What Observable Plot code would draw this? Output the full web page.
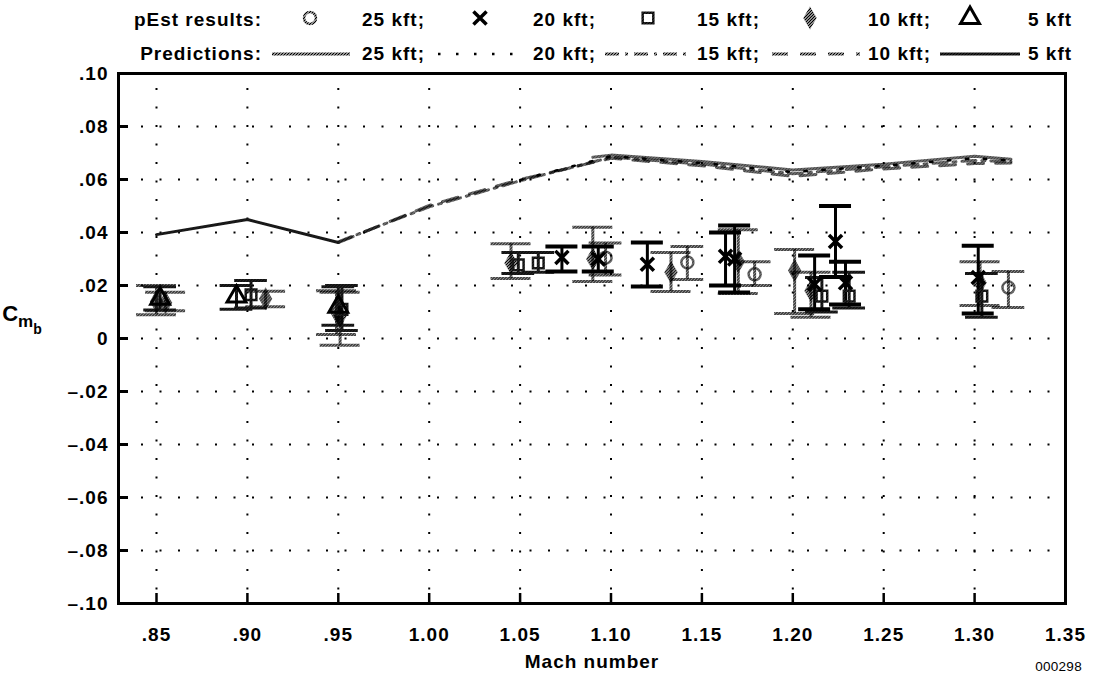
<!DOCTYPE html>
<html>
<head>
<meta charset="utf-8">
<script src="https://cdn.jsdelivr.net/npm/d3@7"></script>
<script src="https://cdn.jsdelivr.net/npm/@observablehq/plot@0.6"></script>
<style>
  body { margin: 0; background: #fff; }
  #chart { width: 1095px; height: 677px; position: relative; font-family: "Liberation Sans", Arial, sans-serif; }
  svg { display: block; }
</style>
</head>
<body>
<!-- halftone textures shared by the legend and the plot -->
<svg width="0" height="0" style="position:absolute">
  <defs>
    <pattern id="hatch" patternUnits="userSpaceOnUse" width="3" height="3">
      <path d="M-1,1 l2,-2 M0,3 l3,-3 M2,4 l2,-2" stroke="#000" stroke-width="1.3"/>
    </pattern>
    <pattern id="hatchDark" patternUnits="userSpaceOnUse" width="3" height="3">
      <rect width="3" height="3" fill="#333"/>
      <path d="M-1,1 l2,-2 M0,3 l3,-3 M2,4 l2,-2" stroke="#000" stroke-width="1.2"/>
    </pattern>
  </defs>
</svg>
<div id="chart">
  <div id="legend"></div>
  <div id="plot"></div>
</div>
<script>
// ---- axes ----
const xTicks = [0.85, 0.90, 0.95, 1.00, 1.05, 1.10, 1.15, 1.20, 1.25, 1.30, 1.35];
const xTickLabels = [".85", ".90", ".95", "1.00", "1.05", "1.10", "1.15", "1.20", "1.25", "1.30", "1.35"];
const yTicks = [0.10, 0.08, 0.06, 0.04, 0.02, 0, -0.02, -0.04, -0.06, -0.08, -0.10];
const yTickLabels = [".10", ".08", ".06", ".04", ".02", "0", "–.02", "–.04", "–.06", "–.08", "–.10"];
const altitudes = ["25 kft", "20 kft", "15 kft", "10 kft", "5 kft"];

// ---- predictions: [Mach, Cm_b] ----
const pred25kft = [[1.09, 0.0684], [1.10, 0.0692], [1.15, 0.0668], [1.20, 0.0636], [1.25, 0.0658], [1.30, 0.0688], [1.32, 0.0676]];
const pred20kft = [[1.05, 0.0598], [1.10, 0.0688], [1.15, 0.0662], [1.20, 0.0628], [1.25, 0.0652], [1.30, 0.0680], [1.32, 0.0672]];
const pred15kft = [[0.95, 0.0365], [1.00, 0.0497], [1.05, 0.0595], [1.10, 0.0684], [1.15, 0.0658], [1.20, 0.0622], [1.25, 0.0648], [1.30, 0.0672], [1.32, 0.0668]];
const pred10kft = [[0.95, 0.0362], [1.00, 0.0502], [1.05, 0.0600], [1.10, 0.0680], [1.15, 0.0652], [1.20, 0.0612], [1.25, 0.0640], [1.30, 0.0660], [1.32, 0.0662]];
const pred5kft = [[0.85, 0.0392], [0.90, 0.0449], [0.95, 0.0362]];

// ---- pEst results: [Mach, Cm_b, lower bound, upper bound] ----
const pest25kft = [
  [1.097, 0.0305, 0.0240, 0.0360],
  [1.142, 0.0287, 0.0223, 0.0347],
  [1.179, 0.0242, 0.0200, 0.0290],
  [1.3186, 0.0192, 0.0117, 0.0253]
];
const pest20kft = [
  [1.073, 0.0306, 0.0253, 0.0347],
  [1.093, 0.0300, 0.0253, 0.0347],
  [1.120, 0.0280, 0.0196, 0.0362],
  [1.163, 0.0310, 0.0200, 0.0400],
  [1.168, 0.0300, 0.0174, 0.0426],
  [1.212, 0.0205, 0.0110, 0.0313],
  [1.2235, 0.0366, 0.0232, 0.0500],
  [1.229, 0.0210, 0.0128, 0.0290],
  [1.302, 0.0230, 0.0094, 0.0350]
];
const pest15kft = [
  [0.902, 0.0165, 0.0115, 0.0219],
  [0.952, 0.0110, 0.0030, 0.0200],
  [1.049, 0.0278, 0.0245, 0.0325],
  [1.060, 0.0285, 0.0250, 0.0325],
  [1.216, 0.0160, 0.0100, 0.0230],
  [1.231, 0.0160, 0.0115, 0.0250],
  [1.304, 0.0160, 0.0080, 0.0245]
];
const pest10kft = [
  [0.850, 0.0140, 0.0090, 0.0200],
  [0.855, 0.0135, 0.0105, 0.0175],
  [0.910, 0.0150, 0.0120, 0.0178],
  [0.949, 0.0100, 0.0015, 0.0180],
  [0.951, 0.0085, -0.0025, 0.0175],
  [1.045, 0.0285, 0.0226, 0.0358],
  [1.090, 0.0300, 0.0215, 0.0420],
  [1.133, 0.0250, 0.0177, 0.0325],
  [1.170, 0.0290, 0.0170, 0.0410],
  [1.201, 0.0257, 0.0094, 0.0336],
  [1.210, 0.0180, 0.0080, 0.0250],
  [1.303, 0.0210, 0.0125, 0.0290]
];
const pest5kft = [
  [0.852, 0.0150, 0.0108, 0.0195],
  [0.894, 0.0158, 0.0110, 0.0200],
  [0.950, 0.0120, 0.0050, 0.0195]
];

// ---- drawing styles ----
const FONT = '"Liberation Sans", Arial, sans-serif';
const GREY = "url(#hatch)";
const DARK = "url(#hatchDark)";
const predStyle = {
  "25 kft": {stroke: GREY, strokeWidth: 3},
  "20 kft": {stroke: "black", strokeWidth: 2.5, strokeDasharray: "2.5,15.5"},
  "15 kft": {stroke: GREY, strokeWidth: 3, strokeDasharray: "14,6,3,6"},
  "10 kft": {stroke: GREY, strokeWidth: 3, strokeDasharray: "16,12"},
  "5 kft": {stroke: DARK, strokeWidth: 3}
};
const pestStyle = {
  "25 kft": {symbol: "circle", r: 6, stroke: GREY, fill: "none", strokeWidth: 2.5, bar: GREY, stem: 3, cap: 3, capHalf: 0.009},
  "20 kft": {symbol: "times", r: 6, stroke: "black", fill: "none", strokeWidth: 3.5, bar: "black", stem: 3, cap: 4, capHalf: 0.0088},
  "15 kft": {symbol: "square", r: 6, stroke: DARK, fill: "none", strokeWidth: 2.5, bar: DARK, stem: 3, cap: 3, capHalf: 0.009},
  "10 kft": {symbol: "diamond", r: 7, stroke: "none", fill: GREY, strokeWidth: 1, bar: GREY, stem: 3, cap: 3, capHalf: 0.011},
  "5 kft": {symbol: "triangle", r: 7, stroke: "black", fill: "none", strokeWidth: 3, bar: DARK, stem: 3, cap: 3, capHalf: 0.009}
};
const predictions = {"25 kft": pred25kft, "20 kft": pred20kft, "15 kft": pred15kft, "10 kft": pred10kft, "5 kft": pred5kft};
const results = {"25 kft": pest25kft, "20 kft": pest20kft, "15 kft": pest15kft, "10 kft": pest10kft, "5 kft": pest5kft};

// ---- legend ----
const legend = d3.select("#legend").append("svg")
  .attr("width", 1095).attr("height", 66)
  .style("font-family", FONT).style("font-size", "19px")
  .style("font-weight", "bold").style("letter-spacing", "1px");
legend.append("text").attr("x", 262).attr("y", 26).attr("text-anchor", "end").text("pEst results:");
legend.append("text").attr("x", 262).attr("y", 60).attr("text-anchor", "end").text("Predictions:");
const labelX = [362, 533, 697, 868, 1028];
const symbolX = [310, 480, 648, 810, 970];
const sampleX = [[272, 350], [438, 526], [605, 686], [772, 860], [940, 1020]];
const d3Symbols = {circle: d3.symbolCircle, times: d3.symbolTimes, square: d3.symbolSquare, diamond: d3.symbolDiamond, triangle: d3.symbolTriangle};
altitudes.forEach((alt, i) => {
  const sep = i < altitudes.length - 1 ? ";" : "";
  legend.append("text").attr("x", labelX[i]).attr("y", 26).text(alt + sep);
  legend.append("text").attr("x", labelX[i]).attr("y", 60).text(alt + sep);
  const s = pestStyle[alt];
  legend.append("path")
    .attr("transform", `translate(${symbolX[i]},18)`)
    .attr("d", d3.symbol(d3Symbols[s.symbol], Math.PI * s.r * s.r)())
    .attr("fill", s.fill).attr("stroke", s.stroke).attr("stroke-width", s.strokeWidth);
  const p = predStyle[alt];
  legend.append("line")
    .attr("x1", sampleX[i][0]).attr("x2", sampleX[i][1]).attr("y1", 54).attr("y2", 54)
    .attr("stroke", p.stroke).attr("stroke-width", p.strokeWidth)
    .attr("stroke-dasharray", p.strokeDasharray || null);
});

// ---- plot ----
const W = 1095, H = 611, mL = 118, mR = 30, mT = 7, mB = 74;
const innerW = W - mL - mR, innerH = H - mT - mB;

function errorBars(data, s) {
  return [
    Plot.ruleX(data, {x: d => d[0], y1: d => d[2], y2: d => d[3], stroke: s.bar, strokeWidth: s.stem}),
    Plot.ruleY(data, {y: d => d[2], x1: d => d[0] - s.capHalf, x2: d => d[0] + s.capHalf, stroke: s.bar, strokeWidth: s.cap}),
    Plot.ruleY(data, {y: d => d[3], x1: d => d[0] - s.capHalf, x2: d => d[0] + s.capHalf, stroke: s.bar, strokeWidth: s.cap})
  ];
}

// y-axis title with nested subscripts, and the figure number
function annotations() {
  const ns = "http://www.w3.org/2000/svg";
  const g = document.createElementNS(ns, "g");
  const t = document.createElementNS(ns, "text");
  t.setAttribute("x", 22);
  t.setAttribute("y", 255);
  t.setAttribute("font-size", 22);
  t.setAttribute("font-weight", "bold");
  t.setAttribute("letter-spacing", "0");
  const parts = [["C", 22, 0], ["m", 17, 6], ["b", 14, 7]];
  for (const [s, size, dy] of parts) {
    const ts = document.createElementNS(ns, "tspan");
    ts.setAttribute("font-size", size);
    ts.setAttribute("dy", dy);
    ts.textContent = s;
    t.appendChild(ts);
  }
  g.appendChild(t);
  const code = document.createElementNS(ns, "text");
  code.setAttribute("x", 1082);
  code.setAttribute("y", 605);
  code.setAttribute("text-anchor", "end");
  code.setAttribute("font-size", 13.5);
  code.setAttribute("font-weight", "normal");
  code.setAttribute("letter-spacing", "0.3");
  code.textContent = "000298";
  g.appendChild(code);
  return g;
}

const xIn = xTicks.filter(v => v > 0.84 && v < 1.34);
const yIn = yTicks.filter(v => v > -0.099 && v < 0.099);

const marks = [
  Plot.gridY(yIn, {stroke: "black", strokeOpacity: 1, strokeWidth: 2, strokeDasharray: "2,16.5", strokeDashoffset: -4.5}),
  Plot.gridX(xIn, {stroke: "black", strokeOpacity: 1, strokeWidth: 2, strokeDasharray: "2,16.5", strokeDashoffset: -15}),
  Plot.tickX(xIn, {x: d => d, insetTop: innerH - 10, stroke: "black", strokeWidth: 2.5}),
  Plot.tickY(yTicks, {y: d => d, insetRight: innerW - 10, stroke: "black", strokeWidth: 3}),
  // predicted derivatives
  ...["10 kft", "15 kft", "25 kft", "20 kft", "5 kft"].map(alt =>
    Plot.line(predictions[alt], {x: d => d[0], y: d => d[1], ...predStyle[alt]})),
  // estimates with uncertainty bounds, grey series first
  ...["10 kft", "25 kft", "15 kft", "5 kft", "20 kft"].flatMap(alt => errorBars(results[alt], pestStyle[alt])),
  ...["10 kft", "25 kft", "15 kft", "5 kft", "20 kft"].map(alt => {
    const s = pestStyle[alt];
    return Plot.dot(results[alt], {x: d => d[0], y: d => d[1], symbol: s.symbol, r: s.r, stroke: s.stroke, fill: s.fill, strokeWidth: s.strokeWidth});
  }),
  Plot.frame({stroke: "black", strokeWidth: 3}),
  Plot.axisX({ticks: xTicks, tickFormat: d => xTickLabels[xTicks.indexOf(d)], tickSize: 0, tickPadding: 24,
    label: "Mach number", labelAnchor: "center", labelArrow: "none", labelOffset: 64}),
  Plot.axisY({ticks: yTicks, tickFormat: d => yTickLabels[yTicks.indexOf(d)], tickSize: 0, tickPadding: 10, label: null}),
  annotations
];

const chart = Plot.plot({
  width: W, height: H,
  marginLeft: mL, marginRight: mR, marginTop: mT, marginBottom: mB,
  x: {domain: [0.8291, 1.35]},
  y: {domain: [-0.10, 0.10]},
  style: `font-family: ${FONT}; font-size: 19px; font-weight: bold; letter-spacing: 1px; background: white; overflow: visible;`,
  marks
});
document.getElementById("plot").appendChild(chart);
</script>
</body>
</html>
